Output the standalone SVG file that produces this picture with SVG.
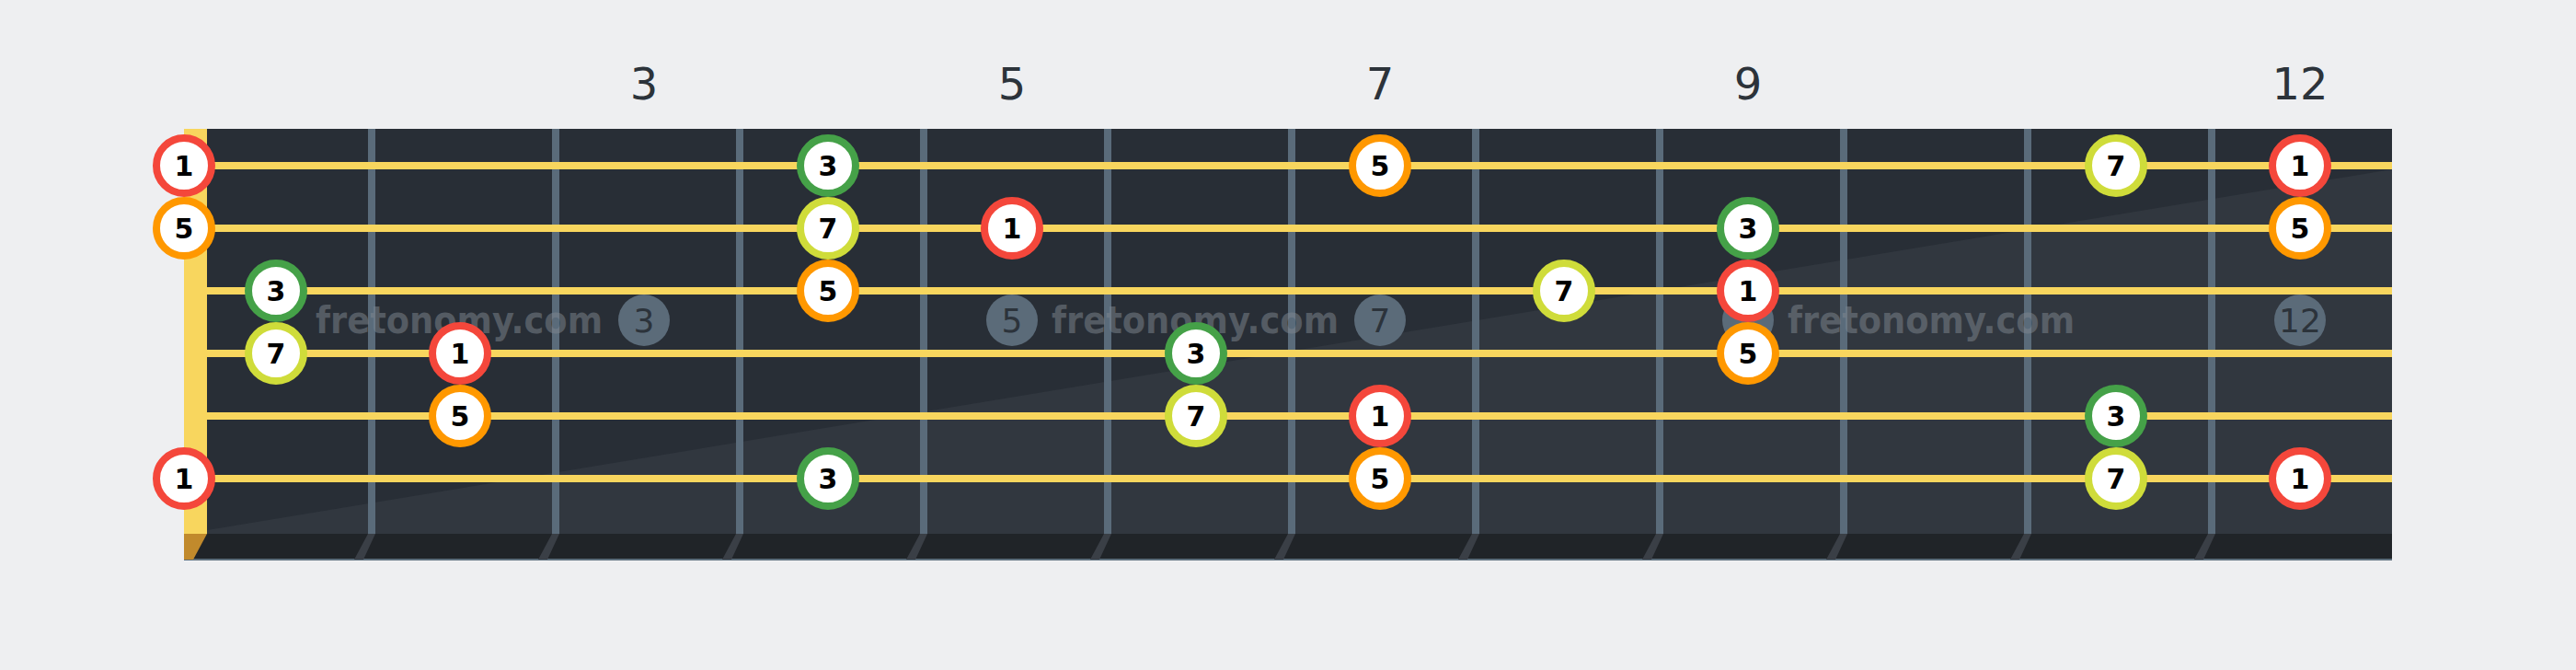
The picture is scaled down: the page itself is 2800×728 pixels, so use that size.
<svg xmlns="http://www.w3.org/2000/svg" width="2800" height="728" viewBox="0 0 2800 728">
<defs>
<style>
.fretnum{font-family:"DejaVu Sans","Liberation Sans",sans-serif;font-size:48px;fill:#2c333a;text-anchor:middle}
.fret{fill:#5a6b7a}
.str{fill:#f8d65e}
.shadow{fill:#3a3f46}
.dot{fill:#5b6b79}
.dottxt{font-family:"DejaVu Sans","Liberation Sans",sans-serif;font-size:36px;fill:#2c333b;text-anchor:middle}
.wm{font-family:"DejaVu Sans","Liberation Sans",sans-serif;font-weight:bold;font-size:40px;fill:#808890;fill-opacity:0.5}
.note circle{fill:#ffffff;stroke-width:8}
.note text{font-family:"DejaVu Sans","Liberation Sans",sans-serif;font-weight:bold;font-size:30px;fill:#000000;text-anchor:middle}
.d1 circle{stroke:#f4473b}
.d3 circle{stroke:#45a148}
.d5 circle{stroke:#ff9800}
.d7 circle{stroke:#cfdc3a}
</style>
</defs>
<rect x="0" y="0" width="2800" height="728" fill="#eeeff1"/>
<g id="fret-numbers">
<text class="fretnum" x="700" y="108">3</text>
<text class="fretnum" x="1100" y="108">5</text>
<text class="fretnum" x="1500" y="108">7</text>
<text class="fretnum" x="1900" y="108">9</text>
<text class="fretnum" x="2500" y="108">12</text>
</g>
<g id="fretboard">
<rect x="200" y="140" width="2400" height="440" fill="#282e36"/>
<polygon points="225,576 2600,184 2600,580 225,580" fill="#31373f"/>
<rect x="200" y="580" width="2400" height="28" fill="#202428"/>
<rect x="200" y="607" width="2400" height="2" fill="#5c6e7c"/>
<polygon points="200,580 225,580 210,608 200,608" fill="#c18a2c"/>
<rect x="200" y="140" width="25" height="440" fill="#f8d65e"/>
</g>
<g id="frets">
<rect class="fret" x="400" y="140" width="8" height="440"/>
<rect class="fret" x="600" y="140" width="8" height="440"/>
<rect class="fret" x="800" y="140" width="8" height="440"/>
<rect class="fret" x="1000" y="140" width="8" height="440"/>
<rect class="fret" x="1200" y="140" width="8" height="440"/>
<rect class="fret" x="1400" y="140" width="8" height="440"/>
<rect class="fret" x="1600" y="140" width="8" height="440"/>
<rect class="fret" x="1800" y="140" width="8" height="440"/>
<rect class="fret" x="2000" y="140" width="8" height="440"/>
<rect class="fret" x="2200" y="140" width="8" height="440"/>
<rect class="fret" x="2400" y="140" width="8" height="440"/>
<polygon class="shadow" points="400,580 408,580 395,608 385,608"/>
<polygon class="shadow" points="600,580 608,580 595,608 585,608"/>
<polygon class="shadow" points="800,580 808,580 795,608 785,608"/>
<polygon class="shadow" points="1000,580 1008,580 995,608 985,608"/>
<polygon class="shadow" points="1200,580 1208,580 1195,608 1185,608"/>
<polygon class="shadow" points="1400,580 1408,580 1395,608 1385,608"/>
<polygon class="shadow" points="1600,580 1608,580 1595,608 1585,608"/>
<polygon class="shadow" points="1800,580 1808,580 1795,608 1785,608"/>
<polygon class="shadow" points="2000,580 2008,580 1995,608 1985,608"/>
<polygon class="shadow" points="2200,580 2208,580 2195,608 2185,608"/>
<polygon class="shadow" points="2400,580 2408,580 2395,608 2385,608"/>
</g>
<g id="markers">
<circle class="dot" cx="700" cy="348" r="28"/><text class="dottxt" x="700" y="361">3</text>
<circle class="dot" cx="1100" cy="348" r="28"/><text class="dottxt" x="1100" y="361">5</text>
<circle class="dot" cx="1500" cy="348" r="28"/><text class="dottxt" x="1500" y="361">7</text>
<circle class="dot" cx="1900" cy="348" r="28"/>
<circle class="dot" cx="2500" cy="348" r="28"/><text class="dottxt" x="2500" y="361">12</text>
</g>
<g id="strings">
<rect class="str" x="225" y="176" width="2375" height="8"/>
<rect class="str" x="225" y="244" width="2375" height="8"/>
<rect class="str" x="225" y="312" width="2375" height="8"/>
<rect class="str" x="225" y="380" width="2375" height="8"/>
<rect class="str" x="225" y="448" width="2375" height="8"/>
<rect class="str" x="225" y="516" width="2375" height="8"/>
</g>
<g id="watermarks">
<text class="wm" x="343" y="362" textLength="312" lengthAdjust="spacingAndGlyphs">fretonomy.com</text>
<text class="wm" x="1143" y="362" textLength="312" lengthAdjust="spacingAndGlyphs">fretonomy.com</text>
<text class="wm" x="1943" y="362" textLength="312" lengthAdjust="spacingAndGlyphs">fretonomy.com</text>
</g>
<g id="connectors"/>
<g id="notes">
<g id="s1-f0" class="note d1"><circle cx="200" cy="180" r="30"/><text x="200" y="191">1</text></g>
<g id="s1-f4" class="note d3"><circle cx="900" cy="180" r="30"/><text x="900" y="191">3</text></g>
<g id="s1-f7" class="note d5"><circle cx="1500" cy="180" r="30"/><text x="1500" y="191">5</text></g>
<g id="s1-f11" class="note d7"><circle cx="2300" cy="180" r="30"/><text x="2300" y="191">7</text></g>
<g id="s1-f12" class="note d1"><circle cx="2500" cy="180" r="30"/><text x="2500" y="191">1</text></g>
<g id="s2-f0" class="note d5"><circle cx="200" cy="248" r="30"/><text x="200" y="259">5</text></g>
<g id="s2-f4" class="note d7"><circle cx="900" cy="248" r="30"/><text x="900" y="259">7</text></g>
<g id="s2-f5" class="note d1"><circle cx="1100" cy="248" r="30"/><text x="1100" y="259">1</text></g>
<g id="s2-f9" class="note d3"><circle cx="1900" cy="248" r="30"/><text x="1900" y="259">3</text></g>
<g id="s2-f12" class="note d5"><circle cx="2500" cy="248" r="30"/><text x="2500" y="259">5</text></g>
<g id="s3-f1" class="note d3"><circle cx="300" cy="316" r="30"/><text x="300" y="327">3</text></g>
<g id="s3-f4" class="note d5"><circle cx="900" cy="316" r="30"/><text x="900" y="327">5</text></g>
<g id="s3-f8" class="note d7"><circle cx="1700" cy="316" r="30"/><text x="1700" y="327">7</text></g>
<g id="s3-f9" class="note d1"><circle cx="1900" cy="316" r="30"/><text x="1900" y="327">1</text></g>
<g id="s4-f1" class="note d7"><circle cx="300" cy="384" r="30"/><text x="300" y="395">7</text></g>
<g id="s4-f2" class="note d1"><circle cx="500" cy="384" r="30"/><text x="500" y="395">1</text></g>
<g id="s4-f6" class="note d3"><circle cx="1300" cy="384" r="30"/><text x="1300" y="395">3</text></g>
<g id="s4-f9" class="note d5"><circle cx="1900" cy="384" r="30"/><text x="1900" y="395">5</text></g>
<g id="s5-f2" class="note d5"><circle cx="500" cy="452" r="30"/><text x="500" y="463">5</text></g>
<g id="s5-f6" class="note d7"><circle cx="1300" cy="452" r="30"/><text x="1300" y="463">7</text></g>
<g id="s5-f7" class="note d1"><circle cx="1500" cy="452" r="30"/><text x="1500" y="463">1</text></g>
<g id="s5-f11" class="note d3"><circle cx="2300" cy="452" r="30"/><text x="2300" y="463">3</text></g>
<g id="s6-f0" class="note d1"><circle cx="200" cy="520" r="30"/><text x="200" y="531">1</text></g>
<g id="s6-f4" class="note d3"><circle cx="900" cy="520" r="30"/><text x="900" y="531">3</text></g>
<g id="s6-f7" class="note d5"><circle cx="1500" cy="520" r="30"/><text x="1500" y="531">5</text></g>
<g id="s6-f11" class="note d7"><circle cx="2300" cy="520" r="30"/><text x="2300" y="531">7</text></g>
<g id="s6-f12" class="note d1"><circle cx="2500" cy="520" r="30"/><text x="2500" y="531">1</text></g>
</g>
</svg>
